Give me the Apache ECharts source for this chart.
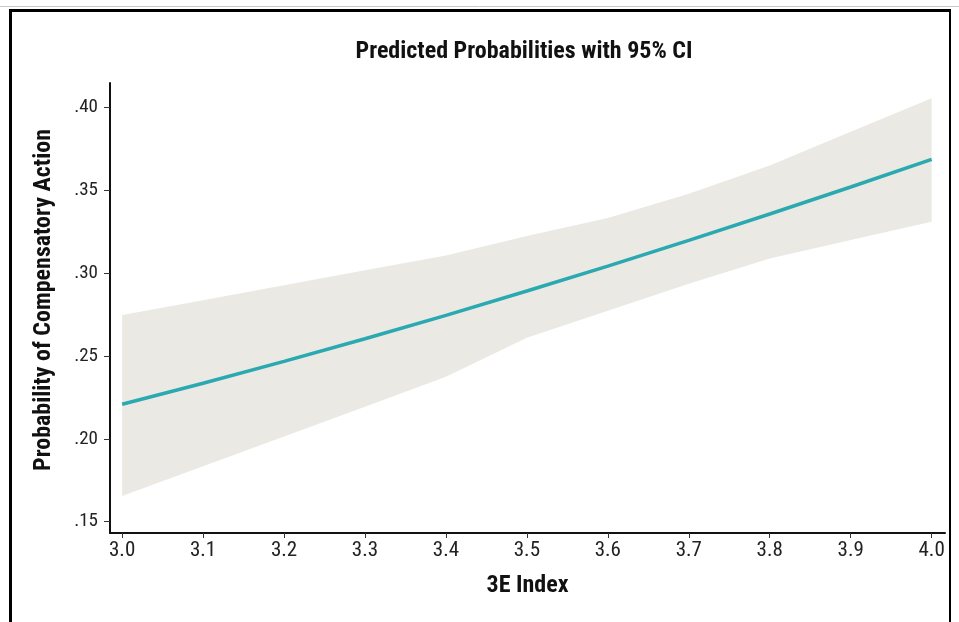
<!DOCTYPE html>
<html>
<head>
<meta charset="utf-8">
<script src="https://cdn.jsdelivr.net/npm/echarts@6/dist/echarts.min.js"></script>
<style>
html,body{margin:0;padding:0;background:#fff;}
#chart{width:959px;height:622px;}
</style>
</head>
<body>
<div id="chart"></div>
<script>
// ---- Data ----
var xValues   = [3.0, 3.1, 3.2, 3.3, 3.4, 3.5, 3.6, 3.7, 3.8, 3.9, 4.0];
var predicted = [0.2208, 0.2335, 0.2467, 0.2604, 0.2745, 0.2892, 0.3042, 0.3198, 0.3357, 0.3520, 0.3687];
var ciLower   = [0.1654, 0.1834, 0.2014, 0.2194, 0.2374, 0.2610, 0.2773, 0.2936, 0.3089, 0.3200, 0.3310];
var ciUpper   = [0.2747, 0.2837, 0.2927, 0.3017, 0.3107, 0.3224, 0.3333, 0.3479, 0.3650, 0.3853, 0.4056];
var xTicks    = [3.0, 3.1, 3.2, 3.3, 3.4, 3.5, 3.6, 3.7, 3.8, 3.9, 4.0];
var yTicks    = [0.15, 0.20, 0.25, 0.30, 0.35, 0.40];

var titleText = 'Predicted Probabilities with 95% CI';
var xName = '3E Index';
var yName = 'Probability of Compensatory Action';

var condFont = "'Liberation Sans Narrow', 'Arial Narrow', 'Roboto Condensed', 'DejaVu Sans Condensed', sans-serif";

// band rows: [value, x] so that the stacked (first numeric) dimension is the y value
var lowerData = xValues.map(function (x, i) { return [ciLower[i], x]; });
var bandData  = xValues.map(function (x, i) { return [ciUpper[i] - ciLower[i], x]; });
var lineData  = xValues.map(function (x, i) { return [x, predicted[i]]; });

var chart = echarts.init(document.getElementById('chart'), null, {renderer: 'canvas'});
chart.setOption({
  animation: false,
  backgroundColor: '#ffffff',
  title: {
    text: titleText,
    left: 519, top: 35,
    textAlign: 'center',
    textStyle: {fontFamily: condFont, fontWeight: 'bold', fontSize: 24, color: '#111'}
  },
  grid: {left: 110, right: 14, top: 83, bottom: 89, containLabel: false},
  xAxis: {
    type: 'value', min: 2.985, max: 4.0165, z: 10,
    name: xName, nameLocation: 'middle', nameGap: 41,
    nameTextStyle: {fontFamily: condFont, fontWeight: 'bold', fontSize: 24, color: '#111'},
    axisLine: {show: true, onZero: false, lineStyle: {color: '#111', width: 2}},
    axisTick: {show: true, customValues: xTicks, length: 5, lineStyle: {color: '#333', width: 1}},
    axisLabel: {customValues: xTicks, margin: 7, fontFamily: condFont, fontSize: 21, color: '#222',
      formatter: function (v) { return (+v).toFixed(1); }},
    splitLine: {show: false}
  },
  yAxis: {
    type: 'value', min: 0.1431, max: 0.4148, z: 10,
    name: yName, nameLocation: 'middle', nameGap: 54, nameRotate: 90,
    nameTextStyle: {fontFamily: condFont, fontWeight: 'bold', fontSize: 24, color: '#111', padding: [0, 0, 0, 16]},
    axisLine: {show: true, onZero: false, lineStyle: {color: '#111', width: 2}},
    axisTick: {show: true, customValues: yTicks, length: 6, lineStyle: {color: '#333', width: 1}},
    axisLabel: {customValues: yTicks, margin: 12, fontFamily: condFont, fontSize: 19, color: '#222',
      formatter: function (v) { return (+v).toFixed(2).replace(/^0/, ''); }},
    splitLine: {show: false}
  },
  graphic: [
    {type: 'line', shape: {x1: 0, y1: 6.5, x2: 959, y2: 6.5}, style: {stroke: '#c8c8c8', lineWidth: 1}, z: 100},
    {type: 'line', shape: {x1: 9, y1: 10.5, x2: 951, y2: 10.5}, style: {stroke: '#000', lineWidth: 3}, z: 100},
    {type: 'line', shape: {x1: 10.5, y1: 9, x2: 10.5, y2: 622}, style: {stroke: '#000', lineWidth: 3}, z: 100},
    {type: 'line', shape: {x1: 950, y1: 9, x2: 950, y2: 622}, style: {stroke: '#000', lineWidth: 2}, z: 100}
  ],
  series: [
    {
      name: 'lower', type: 'line', data: lowerData, encode: {x: 1, y: 0}, stack: 'ci', symbol: 'none',
      lineStyle: {width: 0, opacity: 0}, silent: true, z: 1
    },
    {
      name: 'band', type: 'line', data: bandData, encode: {x: 1, y: 0}, stack: 'ci', symbol: 'none',
      lineStyle: {width: 0, opacity: 0}, areaStyle: {color: '#ebe9e4', opacity: 1},
      silent: true, z: 1
    },
    {
      name: 'predicted', type: 'line', data: lineData, symbol: 'none',
      lineStyle: {color: '#2aa9b1', width: 3.5}, z: 3
    }
  ]
});
</script>
</body>
</html>
